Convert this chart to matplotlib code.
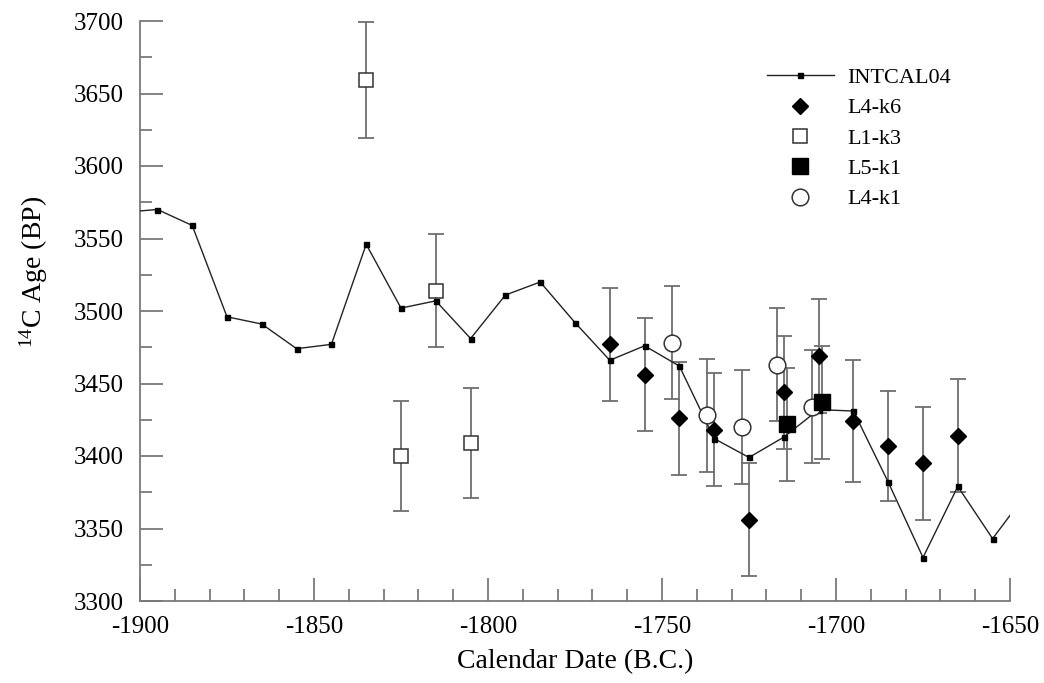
import matplotlib
matplotlib.use('Agg')
import matplotlib.pyplot as plt
from matplotlib.ticker import MultipleLocator

plt.rcParams['font.family'] = ['Liberation Serif', 'DejaVu Serif']
plt.rcParams['mathtext.fontset'] = 'custom'
plt.rcParams['mathtext.rm'] = 'Liberation Serif'
plt.rcParams['axes.unicode_minus'] = False

# --- DATA ---
# INTCAL04 calibration curve
cal_x = [-1900, -1895, -1885, -1875, -1865, -1855, -1845, -1835, -1825, -1815,
         -1805, -1795, -1785, -1775, -1765, -1755, -1745, -1735, -1725, -1715,
         -1705, -1695, -1685, -1675, -1665, -1655, -1650]
cal_y = [3569, 3570, 3559, 3496, 3491, 3474, 3477, 3546, 3502, 3507,
         3481, 3511, 3520, 3492, 3466, 3476, 3462, 3412, 3399, 3413,
         3432, 3431, 3382, 3330, 3379, 3343, 3359]
cal_markers = list(range(1, len(cal_x) - 1))  # end points carry no marker

# L4-k6
k6_x = [-1765, -1755, -1745, -1735, -1725, -1715, -1705, -1695, -1685, -1675, -1665]
k6_y = [3477, 3456, 3426, 3418, 3356, 3444, 3469, 3424, 3407, 3395, 3414]
k6_err = [39, 39, 39, 39, 39, 39, 39, 42, 38, 39, 39]

# L1-k3
k3_x = [-1835, -1825, -1815, -1805]
k3_y = [3659, 3400, 3514, 3409]
k3_err = [40, 38, 39, 38]

# L5-k1
l5_x = [-1714, -1704]
l5_y = [3422, 3437]
l5_err = [39, 39]

# L4-k1
l4_x = [-1747, -1737, -1727, -1717, -1707]
l4_y = [3478, 3428, 3420, 3463, 3434]
l4_err = [39, 39, 39, 39, 39]

# --- PLOT ---
fig = plt.figure(figsize=(10.44, 6.83), dpi=100)
ax = fig.add_axes([140 / 1044, 1 - 601 / 683, 870 / 1044, 580 / 683])

err_col = '#6e6e6e'
eb = dict(fmt='none', ecolor=err_col, elinewidth=1.3, capsize=5.8, capthick=1.3, zorder=2)

ax.plot(cal_x, cal_y, '-', color='#222222', lw=1.0, marker='s', ms=3.6,
        mfc='black', mec='black', markevery=cal_markers, label='INTCAL04', zorder=3)

ax.errorbar(k6_x, k6_y, yerr=k6_err, **eb)
ax.errorbar(k3_x, k3_y, yerr=k3_err, **eb)
ax.errorbar(l5_x, l5_y, yerr=l5_err, **eb)
ax.errorbar(l4_x, l4_y, yerr=l4_err, **eb)

ax.plot(k3_x, k3_y, 's', ms=10.5, mfc='white', mec='#333333', mew=1.1,
        ls='none', label='L1-k3', zorder=4)
ax.plot(l4_x, l4_y, 'o', ms=12, mfc='white', mec='#333333', mew=1.1,
        ls='none', label='L4-k1', zorder=4)
ax.plot(l5_x, l5_y, 's', ms=12, mfc='black', mec='black',
        ls='none', label='L5-k1', zorder=5)
ax.plot(k6_x, k6_y, 'D', ms=8.5, mfc='black', mec='black',
        ls='none', label='L4-k6', zorder=5)

ax.set_xlim(-1900, -1650)
ax.set_ylim(3300, 3700)

ax.xaxis.set_major_locator(MultipleLocator(50))
ax.xaxis.set_minor_locator(MultipleLocator(10))
ax.yaxis.set_major_locator(MultipleLocator(50))
ax.yaxis.set_minor_locator(MultipleLocator(25))

spine_col = '#7a7a7a'
for side in ['top', 'right']:
    ax.spines[side].set_visible(False)
for side in ['left', 'bottom']:
    ax.spines[side].set_color(spine_col)
    ax.spines[side].set_linewidth(1.3)

ax.tick_params(which='both', direction='in', colors=spine_col, width=1.3,
               labelcolor='black', labelsize=18)
ax.tick_params(which='major', length=16.5)
ax.tick_params(which='minor', length=8.5)
ax.tick_params(axis='x', which='major', pad=11)
ax.tick_params(axis='y', which='major', pad=12)

ax.set_xlabel('Calendar Date (B.C.)', fontsize=20, labelpad=8)
ax.set_ylabel(r'$\mathregular{^{14}}$C Age (BP)', fontsize=20)
ax.yaxis.set_label_coords(-0.104, 0.568)

handles, labels = ax.get_legend_handles_labels()
order = ['INTCAL04', 'L4-k6', 'L1-k3', 'L5-k1', 'L4-k1']
hmap = dict(zip(labels, handles))
ax.legend([hmap[k] for k in order], order, loc='upper left',
          bbox_to_anchor=(0.708, 0.939), frameon=False, fontsize=16,
          borderpad=0, handlelength=3.0, handletextpad=0.6, labelspacing=0.44)

fig.savefig('out.png', dpi=100)
